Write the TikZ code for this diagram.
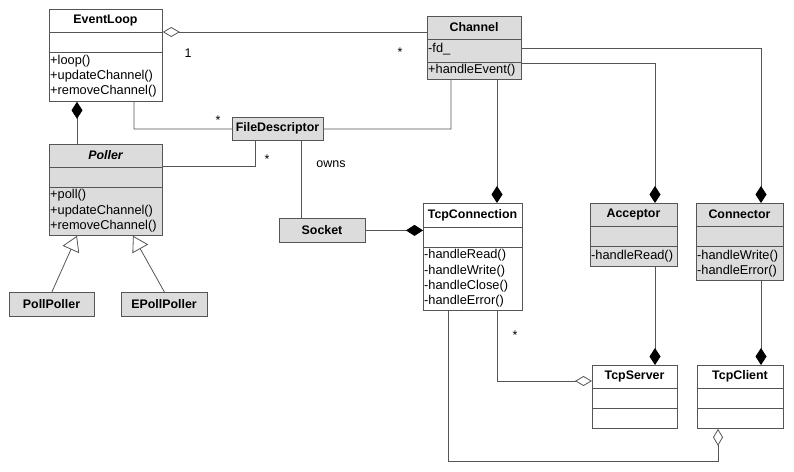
\documentclass[tikz,border=0pt]{standalone}
\usepackage{fontspec}
\setmainfont{Liberation Sans}
\usetikzlibrary{arrows.meta}
\definecolor{boxgray}{RGB}{220,220,220}
\definecolor{linegray}{RGB}{85,85,85}

\begin{document}
\begin{tikzpicture}[x=1pt,y=-1pt,
        cls/.style={draw=linegray, line width=0.8pt, inner sep=0pt, anchor=north west},
        sep/.style={draw=linegray, line width=0.8pt},
        ttl/.style={inner sep=0pt, font=\fontsize{12.4}{15}\selectfont\bfseries},
        mth/.style={inner sep=0pt, anchor=west, font=\fontsize{12.8}{15}\selectfont},
        mult/.style={inner sep=0pt, font=\fontsize{12.5}{14}\selectfont},
        link/.style={draw=linegray, line width=0.8pt},
        comp/.style={link, -{Diamond[length=17pt,width=11pt,color=black]}},
        aggr/.style={link, -{Diamond[open,length=17pt,width=10pt]}},
        gen/.style={link, -{Triangle[open,length=15pt,width=18pt]}}]
        % frame
        \useasboundingbox (0,0) rectangle (794,471);
        % EventLoop
        \node[cls, fill=white, minimum width=113, minimum height=92] (eventloop) at (49,9) {};
        \draw[sep] (49,32) -- (162,32);
        \draw[sep] (49,52) -- (162,52);
        \node[ttl] (eventloop-name) at (105.5,20.5) {EventLoop};
        \node[mth] (eventloop-m1) at (50,61) {+loop()};
        \node[mth] (eventloop-m2) at (50,76) {+updateChannel()};
        \node[mth] (eventloop-m3) at (50,91) {+removeChannel()};
        % Channel
        \node[cls, fill=boxgray, minimum width=94, minimum height=63] (channel) at (427,16) {};
        \draw[sep] (427,39) -- (521,39);
        \draw[sep] (427,62) -- (521,62);
        \node[ttl] (channel-name) at (474,27.5) {Channel};
        \node[mth] (channel-a1) at (428,49) {-fd\_};
        \node[mth] (channel-m1) at (428,70) {+handleEvent()};
        % FileDescriptor
        \node[cls, fill=boxgray, minimum width=91, minimum height=23] (filedesc) at (232,117) {};
        \node[ttl] (filedesc-name) at (277.5,128.5) {FileDescriptor};
        % Poller
        \node[cls, fill=boxgray, minimum width=113, minimum height=91] (poller) at (49,144) {};
        \draw[sep] (49,167) -- (162,167);
        \draw[sep] (49,187) -- (162,187);
        \node[ttl] (poller-name) at (105.5,155.5) {\itshape Poller};
        \node[mth] (poller-m1) at (50,195.5) {+poll()};
        \node[mth] (poller-m2) at (50,211) {+updateChannel()};
        \node[mth] (poller-m3) at (50,226) {+removeChannel()};
        % PollPoller and EPollPoller
        \node[cls, fill=boxgray, minimum width=85, minimum height=24] (pollpoller) at (9,292) {};
        \node[ttl] (pollpoller-name) at (51.5,304) {PollPoller};
        \node[cls, fill=boxgray, minimum width=86, minimum height=24] (epollpoller) at (121,292) {};
        \node[ttl] (epollpoller-name) at (164,304) {EPollPoller};
        % Socket
        \node[cls, fill=boxgray, minimum width=86, minimum height=24] (socket) at (279,218) {};
        \node[ttl] (socket-name) at (322,230) {Socket};
        % TcpConnection
        \node[cls, fill=white, minimum width=99, minimum height=107] (tcpconn) at (423,203) {};
        \draw[sep] (423,227) -- (522,227);
        \draw[sep] (423,247) -- (522,247);
        \node[ttl] (tcpconn-name) at (472.5,215) {TcpConnection};
        \node[mth] (tcpconn-m1) at (424,255.5) {-handleRead()};
        \node[mth] (tcpconn-m2) at (424,271) {-handleWrite()};
        \node[mth] (tcpconn-m3) at (424,286) {-handleClose()};
        \node[mth] (tcpconn-m4) at (424,301) {-handleError()};
        % Acceptor
        \node[cls, fill=boxgray, minimum width=87, minimum height=63] (acceptor) at (590,203) {};
        \draw[sep] (590,226) -- (677,226);
        \draw[sep] (590,246) -- (677,246);
        \node[ttl] (acceptor-name) at (633.5,214.5) {Acceptor};
        \node[mth] (acceptor-m1) at (591,256) {-handleRead()};
        % Connector
        \node[cls, fill=boxgray, minimum width=87, minimum height=77] (connector) at (696,203) {};
        \draw[sep] (696,226) -- (783,226);
        \draw[sep] (696,246) -- (783,246);
        \node[ttl] (connector-name) at (739.5,214.5) {Connector};
        \node[mth] (connector-m1) at (697,256) {-handleWrite()};
        \node[mth] (connector-m2) at (697,271) {-handleError()};
        % TcpServer and TcpClient
        \node[cls, fill=white, minimum width=85, minimum height=63] (tcpserver) at (592,365) {};
        \draw[sep] (592,388) -- (677,388);
        \draw[sep] (592,408) -- (677,408);
        \node[ttl] (tcpserver-name) at (634.5,376.5) {TcpServer};
        \node[cls, fill=white, minimum width=86, minimum height=63] (tcpclient) at (697,365) {};
        \draw[sep] (697,388) -- (783,388);
        \draw[sep] (697,408) -- (783,408);
        \node[ttl] (tcpclient-name) at (740,376.5) {TcpClient};
        % bend points of the connectors
        \coordinate (elch) at (300,32);
        \coordinate (elpo) at (77,120);
        \coordinate (elfd) at (134,129);
        \coordinate (chfd) at (451,129);
        \coordinate (pofd) at (255,166);
        \coordinate (owns) at (301,180);
        \coordinate (pogn) at (133,260);
        \coordinate (chtc) at (497,140);
        \coordinate (chac) at (655,63);
        \coordinate (chco) at (761,48);
        \coordinate (tcts) at (497,381);
        \coordinate (tctc) at (448,461);
        \coordinate (tccl) at (718,461);
        % EventLoop links
        \draw[aggr] (channel.west |- elch) -- (eventloop.east |- elch);
        \draw[comp] (poller.north -| elpo) -- (eventloop.south -| elpo);
        \draw[link] (eventloop.south -| elfd) -- (elfd) -- (filedesc.west);
        % FileDescriptor links
        \draw[link] (channel.south -| chfd) -- (chfd) -- (filedesc.east);
        \draw[link] (poller.east |- pofd) -- (pofd) -- (filedesc.south -| pofd);
        \draw[link] (filedesc.south -| owns) -- (socket.north -| owns);
        % Poller subclasses
        \draw[gen] (pollpoller.north) -- (poller.south -| elpo);
        \draw[gen] (epollpoller.north) -- (poller.south -| pogn);
        % Channel owners
        \draw[comp] (socket.east) -- (socket.east -| tcpconn.west);
        \draw[comp] (channel.south -| chtc) -- (tcpconn.north -| chtc);
        \draw[comp] (channel.east |- chac) -- (chac) -- (acceptor.north -| chac);
        \draw[comp] (channel.east |- chco) -- (chco) -- (connector.north -| chco);
        \draw[comp] (acceptor.south -| chac) -- (tcpserver.north -| chac);
        \draw[comp] (connector.south -| chco) -- (tcpclient.north -| chco);
        % TcpConnection held by server and client
        \draw[aggr] (tcpconn.south -| tcts) -- (tcts) -- (tcpserver.west |- tcts);
        \draw[aggr] (tcpconn.south -| tctc) -- (tctc) -- (tccl) -- (tcpclient.south -| tccl);
        % multiplicities
        \node[mult] (m-one) at (188,53) {1};
        \node[mult] (m-ch) at (400,52) {*};
        \node[mult] (m-elfd) at (218,120) {*};
        \node[mult] (m-pofd) at (267,159) {*};
        \node[mult] (m-tcts) at (515,335) {*};
        \node[mult] (l-owns) at (331,164) {owns};
\end{tikzpicture}
\end{document}
